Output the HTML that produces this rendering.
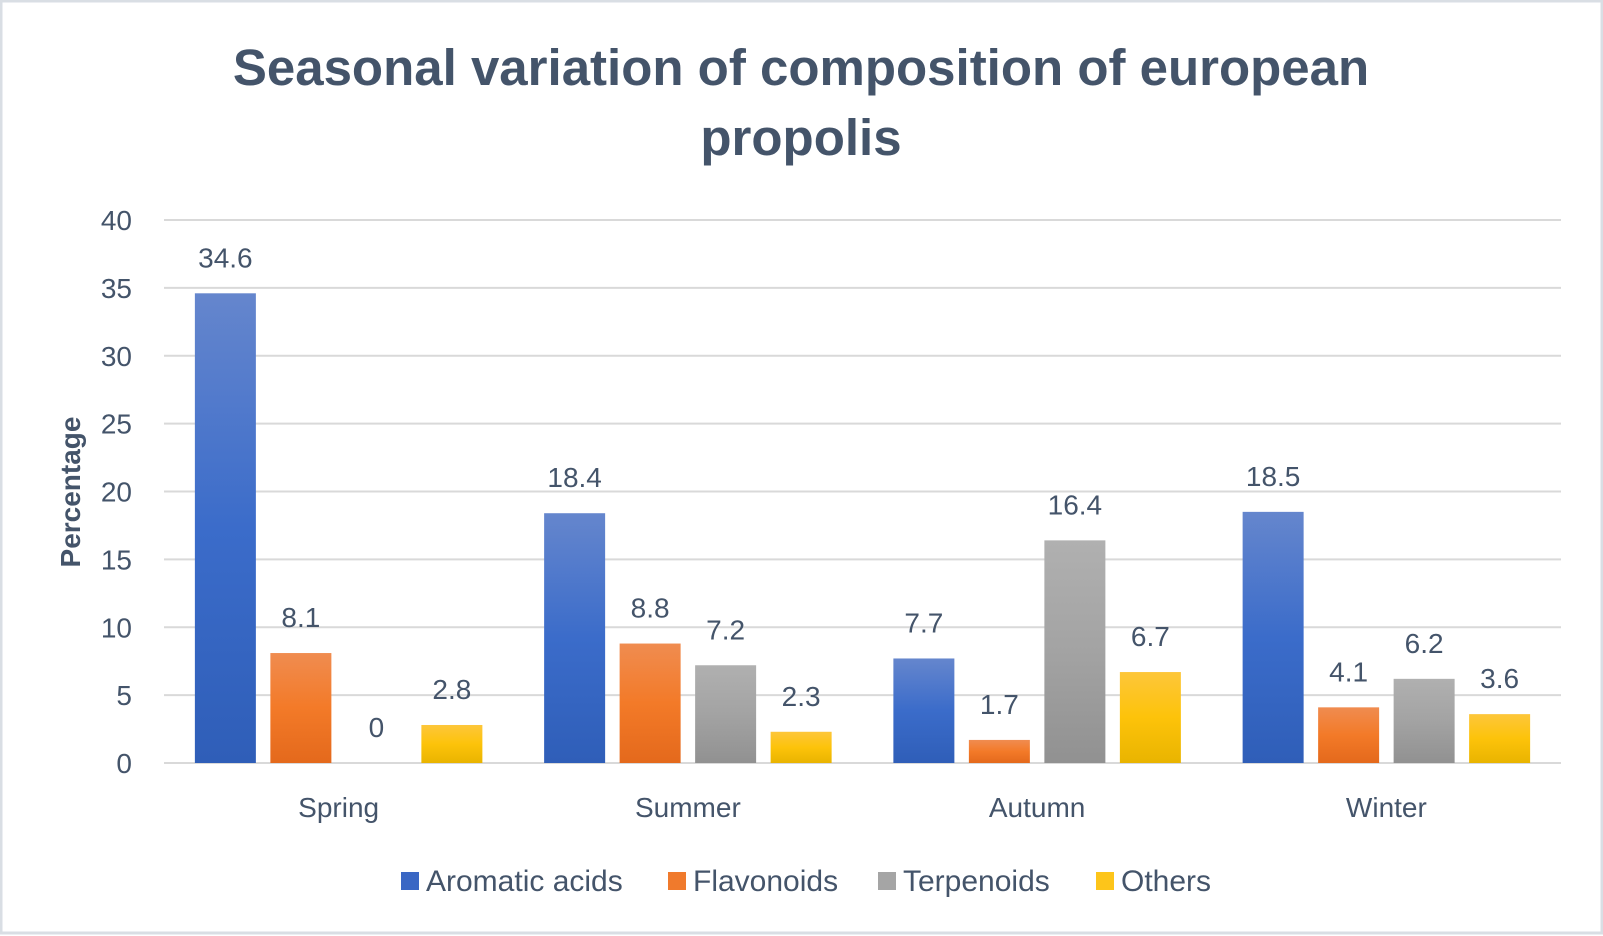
<!DOCTYPE html>
<html><head><meta charset="utf-8"><style>
html,body{margin:0;padding:0;background:#fff;}
svg{display:block;font-family:"Liberation Sans",sans-serif;}
</style></head><body>
<svg id="chart" width="1603" height="936" viewBox="0 0 1603 936">
<defs>
<linearGradient id="gB" x1="0" y1="0" x2="0" y2="1"><stop offset="0" stop-color="#6586cd"/><stop offset="0.5" stop-color="#3b6cca"/><stop offset="1" stop-color="#2f5eb8"/></linearGradient>
<linearGradient id="gO" x1="0" y1="0" x2="0" y2="1"><stop offset="0" stop-color="#f08c50"/><stop offset="0.5" stop-color="#f37a28"/><stop offset="1" stop-color="#e4691c"/></linearGradient>
<linearGradient id="gG" x1="0" y1="0" x2="0" y2="1"><stop offset="0" stop-color="#b0b0b0"/><stop offset="0.5" stop-color="#a3a3a3"/><stop offset="1" stop-color="#919191"/></linearGradient>
<linearGradient id="gY" x1="0" y1="0" x2="0" y2="1"><stop offset="0" stop-color="#fdc63a"/><stop offset="0.5" stop-color="#fdc30a"/><stop offset="1" stop-color="#e9b400"/></linearGradient>
</defs>
<rect x="1" y="1" width="1601" height="932" fill="#fff" stroke="#d9dee4" stroke-width="3"/>
<text x="801" y="85" text-anchor="middle" font-size="51" font-weight="bold" fill="#44546a">Seasonal variation of composition of european</text>
<text x="801" y="155" text-anchor="middle" font-size="51" font-weight="bold" fill="#44546a">propolis</text>
<text transform="translate(80,492) rotate(-90)" text-anchor="middle" font-size="28" font-weight="bold" fill="#44546a">Percentage</text>
<g id="grid"></g><g id="bars"></g><g id="labels"></g><g id="legend"></g>
</svg>
<script>
const categories = ["Spring","Summer","Autumn","Winter"];
const seriesNames = ["Aromatic acids","Flavonoids","Terpenoids","Others"];
const aromatic = [34.6,18.4,7.7,18.5];
const flavonoids = [8.1,8.8,1.7,4.1];
const terpenoids = [0,7.2,16.4,6.2];
const others = [2.8,2.3,6.7,3.6];
const yTicks = [0,5,10,15,20,25,30,35,40];

const series = [aromatic, flavonoids, terpenoids, others];
const fills = ["url(#gB)","url(#gO)","url(#gG)","url(#gY)"];
const solid = ["#3a67c4","#f07a2c","#a5a5a5","#fdc51a"];
const NS = "http://www.w3.org/2000/svg";
const L=164, R=1561, T=220, B=763, yMax=40;
const y = v => B - (v/yMax)*(B-T);
const catW = (R-L)/categories.length;
const barW = 61, step = 75.5;
const x = (ci, si) => L + catW*ci + catW/2 - (step*3+barW)/2 + si*step;
function mk(tag, attrs, parent, text){const e=document.createElementNS(NS,tag);for(const k in attrs)e.setAttribute(k,attrs[k]);if(text!==undefined)e.textContent=text;parent.appendChild(e);return e;}
const grid=document.getElementById('grid'), bars=document.getElementById('bars'), labels=document.getElementById('labels'), legend=document.getElementById('legend');
yTicks.forEach(t=>{
  const ln=mk('line',{x1:L,x2:R,y1:y(t),y2:y(t),stroke:'#d9d9d9','stroke-width':2},grid);
  
  
  const tx=mk('text',{x:132,y:y(t)+10,'text-anchor':'end','font-size':28,fill:'#44546a'},grid,String(t));
  
  
});
categories.forEach((c,ci)=>{
  const tx=mk('text',{x:L+catW*ci+catW/2,y:817,'text-anchor':'middle','font-size':28,fill:'#44546a'},labels,c);
  
  
  series.forEach((s,si)=>{
    const v=s[ci];
    const r=mk('rect',{x:x(ci,si),y:y(v),width:barW,height:B-y(v),fill:fills[si]},bars);
    
    
    const lb=mk('text',{x:x(ci,si)+barW/2,y:y(v)-26,'text-anchor':'middle','font-size':28,fill:'#44546a'},labels,String(v));
    
    
  });
});
const legX=[401,668,878,1096];
seriesNames.forEach((n,i)=>{
  const m=mk('rect',{x:legX[i],y:872,width:18,height:18,fill:solid[i]},legend);
  
  
  const t=mk('text',{x:legX[i]+25,y:891,'font-size':30,fill:'#44546a'},legend,n);
  
  
});
</script>
</body></html>
